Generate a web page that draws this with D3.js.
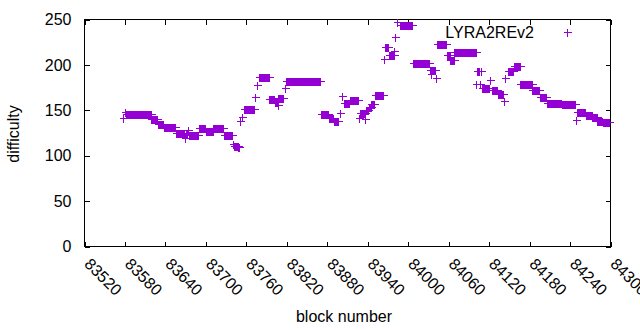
<!DOCTYPE html>
<html>
<head>
<meta charset="utf-8">
<script src="https://cdn.jsdelivr.net/npm/d3@7"></script>
<style>
  html, body { margin: 0; padding: 0; background: #fff; }
  svg { display: block; }
  text { font-family: "Liberation Sans", Arial, sans-serif; font-size: 16px; fill: #000; }
</style>
</head>
<body>
<svg id="chart" width="640" height="330"></svg>
<script>
// ---- data: runs of constant difficulty (block ranges, inclusive) ----
const runStart = [83578,83581,83583,83620,83629,83638,83656,83670,83671,83674,83675,83690,83701,83712,83727,83741,83742,83749,83752,83755,83757,83774,83777,83779,83795,83803,83807,83808,83818,83820,83871,83884,83890,83899,83903,83906,83914,83928,83929,83937,83938,83942,83946,83952,83965,83966,83972,83980,83981,83984,83988,84008,84033,84035,84036,84042,84044,84058,84063,84069,84102,84103,84107,84108,84110,84122,84125,84134,84143,84145,84149,84157,84167,84185,84196,84206,84229,84250,84251,84264,84274,84281,84289];
const runEnd   = [83578,83581,83619,83628,83637,83655,83669,83670,83673,83674,83689,83700,83711,83726,83739,83741,83748,83750,83752,83755,83772,83774,83777,83794,83802,83806,83807,83815,83818,83870,83882,83889,83896,83899,83903,83913,83927,83928,83936,83937,83941,83945,83950,83964,83965,83971,83979,83980,83981,83984,84007,84032,84034,84035,84040,84042,84057,84062,84068,84101,84102,84106,84107,84109,84120,84122,84133,84142,84143,84145,84156,84166,84184,84195,84205,84228,84248,84250,84263,84273,84280,84288,84298];
const runValue = [141.5,148,145,139.5,134.5,131.5,124,118.5,123,128,122,129.5,126.5,129.5,122,112,110.5,109.5,138,142.5,150.5,164,177,185.8,161.5,158.5,155.5,163,173.5,181.5,145,141,137.5,146,165,158,161,141.5,146,139.5,150,153,156,166,206,218.8,210,215,230.5,246.5,243.5,201,194,189,194,185.5,222,210,205,213.5,178,192.5,178,192.5,174.5,182.5,172,167,159.5,185.5,192.7,198.5,178,171.5,164,157,156,138.5,148,144.3,142.4,138,137];

const xTicks = [83520,83580,83640,83700,83760,83820,83880,83940,84000,84060,84120,84180,84240,84300];
const yTicks = [0,50,100,150,200,250];
const seriesName = "LYRA2REv2";
const xLabel = "block number";
const yLabel = "difficulty";

// expand runs into one point per block
const points = [];
runStart.forEach((s, i) => {
  for (let b = s; b <= runEnd[i]; b++) points.push({ block: b, value: runValue[i] });
});

const color = "#9400D3";
const svg = d3.select("#chart");
const L = 84.5, R = 610.5, T = 19.5, B = 246.5;

const x = d3.scaleLinear().domain([83520, 84300]).range([L, R]);
const y = d3.scaleLinear().domain([0, 250]).range([B, T]);

// axes
const gy = svg.append("g").attr("transform", `translate(${L},0)`)
  .call(d3.axisLeft(y).tickValues(yTicks).tickSizeInner(-5).tickSizeOuter(0).tickPadding(13));
gy.select(".domain").remove();

const gyR = svg.append("g").attr("transform", `translate(${R},0)`)
  .call(d3.axisRight(y).tickValues(yTicks).tickSizeInner(-5).tickSizeOuter(0).tickFormat(""));
gyR.select(".domain").remove();

const gx = svg.append("g").attr("transform", `translate(0,${B})`)
  .call(d3.axisBottom(x).tickValues(xTicks).tickFormat(d3.format("d")).tickSizeInner(-5).tickSizeOuter(0));
gx.select(".domain").remove();
gx.selectAll("text")
  .attr("x", 0).attr("y", 0).attr("dy", 0)
  .attr("text-anchor", "start")
  .attr("transform", "translate(-1.5,18.5) rotate(45)");

const gxT = svg.append("g").attr("transform", `translate(0,${T})`)
  .call(d3.axisTop(x).tickValues(xTicks).tickSizeInner(-5).tickSizeOuter(0).tickFormat(""));
gxT.select(".domain").remove();

svg.selectAll(".tick line").attr("stroke", "#000").attr("shape-rendering", "crispEdges");
svg.selectAll(".tick text").style("font-size", "16px").attr("fill", "#000");
svg.selectAll("g").attr("font-family", null).attr("font-size", null);

// border
svg.append("rect").attr("x", L).attr("y", T).attr("width", R - L).attr("height", B - T)
  .attr("fill", "none").attr("stroke", "#000").attr("stroke-width", 1).attr("shape-rendering", "crispEdges");

// points as '+'
const plus = (cx, cy) => `M${cx - 4},${cy}H${cx + 4}M${cx},${cy - 4}V${cy + 4}`;
svg.append("g").selectAll("path").data(points).join("path")
  .attr("d", d => plus(Math.round(x(d.block) - 0.5) + 0.5, Math.round(y(d.value) - 0.5) + 0.5))
  .attr("stroke", color).attr("stroke-width", 1).attr("fill", "none")
  .attr("shape-rendering", "crispEdges");

// legend
svg.append("text").attr("x", 534).attr("y", 37.5).attr("text-anchor", "end").text(seriesName);
svg.append("path").attr("d", plus(567.5, 32.5)).attr("stroke", color).attr("stroke-width", 1)
  .attr("shape-rendering", "crispEdges");

// axis titles
svg.append("text").attr("x", 344).attr("y", 321.5).attr("text-anchor", "middle").text(xLabel);
svg.append("text").attr("transform", "translate(18.5,134) rotate(-90)").attr("text-anchor", "middle").text(yLabel);
</script>
</body>
</html>
